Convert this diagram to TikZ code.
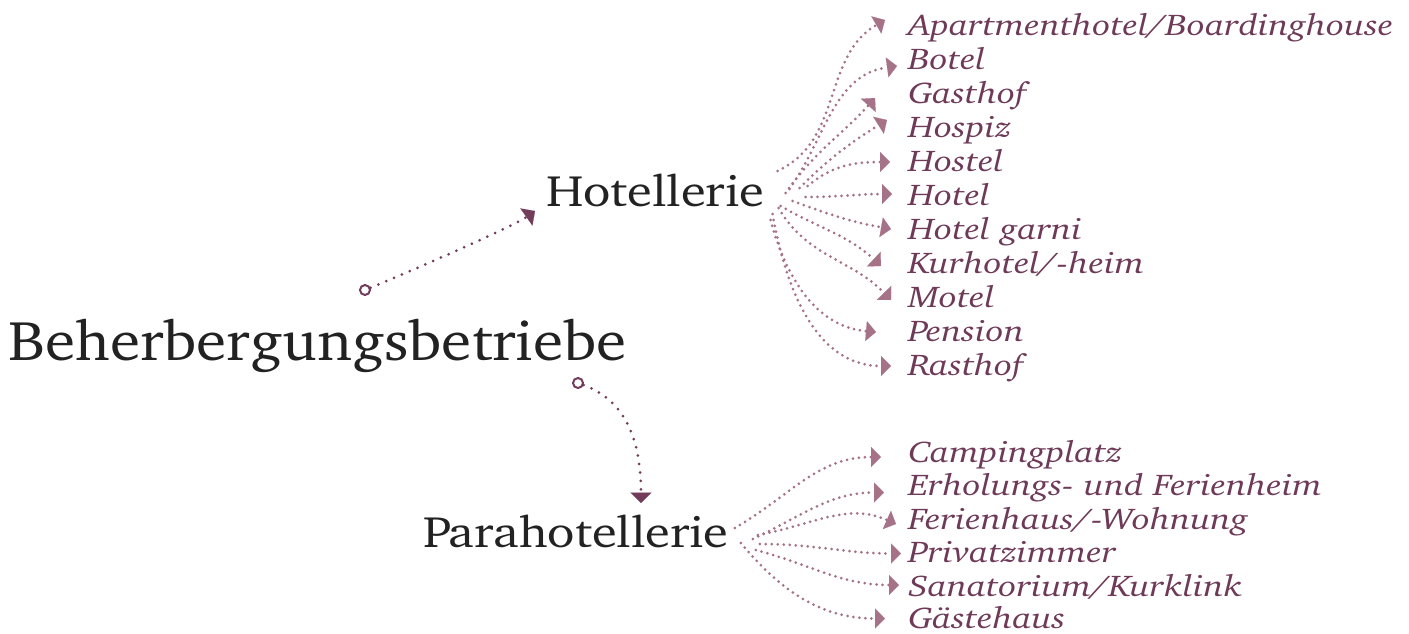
\documentclass[tikz,border=0pt]{standalone}
\usepackage[T1]{fontenc}
\usepackage{charter}
\usetikzlibrary{arrows.meta}
\definecolor{ink}{RGB}{34,34,34}
\definecolor{itemink}{RGB}{110,58,88}
\definecolor{mainarr}{RGB}{115,60,90}
\definecolor{itemarr}{RGB}{165,114,135}
\begin{document}
\begin{tikzpicture}[x=1pt,y=1pt,
 root/.style={anchor=base west,inner sep=0pt,text=ink,font=\fontsize{56}{60}\selectfont,xscale=1.096,transform shape},
 cat/.style={anchor=base west,inner sep=0pt,text=ink,font=\fontsize{44}{48}\selectfont,xscale=1.15,transform shape},
 item/.style={anchor=base west,inner sep=0pt,text=itemink,font=\fontsize{30}{32}\selectfont\itshape,xscale=1.213,transform shape},
 ring/.style={draw=mainarr,line width=2pt,circle,inner sep=0pt,minimum size=10pt},
 mainlink/.style={draw=mainarr,line width=3pt,line cap=round,dash pattern=on 0pt off 8.5pt,-{Triangle[length=10.5pt,width=21pt,line width=0.1pt]}},
 itemlink/.style={draw=itemarr,line width=3pt,line cap=round,dash pattern=on 0pt off 6pt,-{Triangle[length=10pt,width=20pt,line width=0.1pt]}},
]
\useasboundingbox (0,0) rectangle (1409,-633);

\node[root] (root) at (8,-360) {Beherbergungsbetriebe};
\node[cat] (hot) at (546,-206) {Hotellerie};
\node[cat] (para) at (423,-547) {Parahotellerie};

\node[ring] (c1) at (365,-290) {};
\node[ring] (c2) at (578,-383) {};

\node[item] (i1) at (908,-35) {Apartmenthotel/Boardinghouse};
\node[item] (i2) at (908,-69) {Botel};
\node[item] (i3) at (908,-103) {Gasthof};
\node[item] (i4) at (908,-137) {Hospiz};
\node[item] (i5) at (908,-171) {Hostel};
\node[item] (i6) at (908,-205) {Hotel};
\node[item] (i7) at (908,-239) {Hotel garni};
\node[item] (i8) at (908,-273) {Kurhotel/-heim};
\node[item] (i9) at (908,-307) {Motel};
\node[item] (i10) at (908,-341) {Pension};
\node[item] (i11) at (908,-375) {Rasthof};

\node[item] (p1) at (908,-462) {Campingplatz};
\node[item] (p2) at (908,-495.5) {Erholungs- und Ferienheim};
\node[item] (p3) at (908,-529) {Ferienhaus/-Wohnung};
\node[item] (p4) at (908,-562.5) {Privatzimmer};
\node[item] (p5) at (908,-596) {Sanatorium/Kurklink};
\node[item] (p6) at (908,-628.5) {G\"astehaus};

% main connectors
\draw[mainlink] (c1) to[out=22,in=215,looseness=0.4] ([shift={(-11,-5)}]hot.base west);
\draw[mainlink] (c2) to[out=-20,in=90] ([shift={(218,44)}]para.base west);

% Hotellerie items
\draw[itemlink] ([shift={(13,35)}]hot.base east) to[out=25,in=210] ([shift={(-23,15)}]i1.base west);
\draw[itemlink] ([shift={(25,17)}]hot.base east) to[out=55,in=188] ([shift={(-11,3)}]i2.base west);
\draw[itemlink] ([shift={(21,13)}]hot.base east) to[out=55,in=228] ([shift={(-33,5)}]i3.base west);
\draw[itemlink] ([shift={(35,18)}]hot.base east) to[out=45,in=212] ([shift={(-21,17)}]i4.base west);
\draw[itemlink] ([shift={(43,20)}]hot.base east) to[out=40,in=180] ([shift={(-18,9)}]i5.base west);
\draw[itemlink] ([shift={(41,9)}]hot.base east) to[out=0,in=180] ([shift={(-16,11)}]i6.base west);
\draw[itemlink] ([shift={(28,5)}]hot.base east) to[out=-20,in=170] ([shift={(-17,10)}]i7.base west);
\draw[itemlink] ([shift={(16,0)}]hot.base east) to[out=-30,in=137] ([shift={(-27,7)}]i8.base west);
\draw[itemlink] ([shift={(14,-2)}]hot.base east) to[out=-60,in=134] ([shift={(-17,7)}]i9.base west);
\draw[itemlink] ([shift={(6,-14)}]hot.base east) to[out=-75,in=175] ([shift={(-32,9)}]i10.base west);
\draw[itemlink] ([shift={(8,-8)}]hot.base east) to[out=-80,in=180] ([shift={(-17,9)}]i11.base west);

% Parahotellerie items
\draw[itemlink] ([shift={(6,19)}]para.base east) to[out=30,in=180] ([shift={(-27,5)}]p1.base west);
\draw[itemlink] ([shift={(24,8)}]para.base east) to[out=25,in=180] ([shift={(-24,3)}]p2.base west);
\draw[itemlink] ([shift={(29,12)}]para.base east) to[out=10,in=156] ([shift={(-12,5)}]p3.base west);
\draw[itemlink] ([shift={(31,3)}]para.base east) to[out=0,in=180] ([shift={(-7,9)}]p4.base west);
\draw[itemlink] ([shift={(27,-3)}]para.base east) to[out=-15,in=180] ([shift={(-9,11)}]p5.base west);
\draw[itemlink] ([shift={(12,4)}]para.base east) to[out=-50,in=180] ([shift={(-23,10)}]p6.base west);
\end{tikzpicture}
\end{document}
